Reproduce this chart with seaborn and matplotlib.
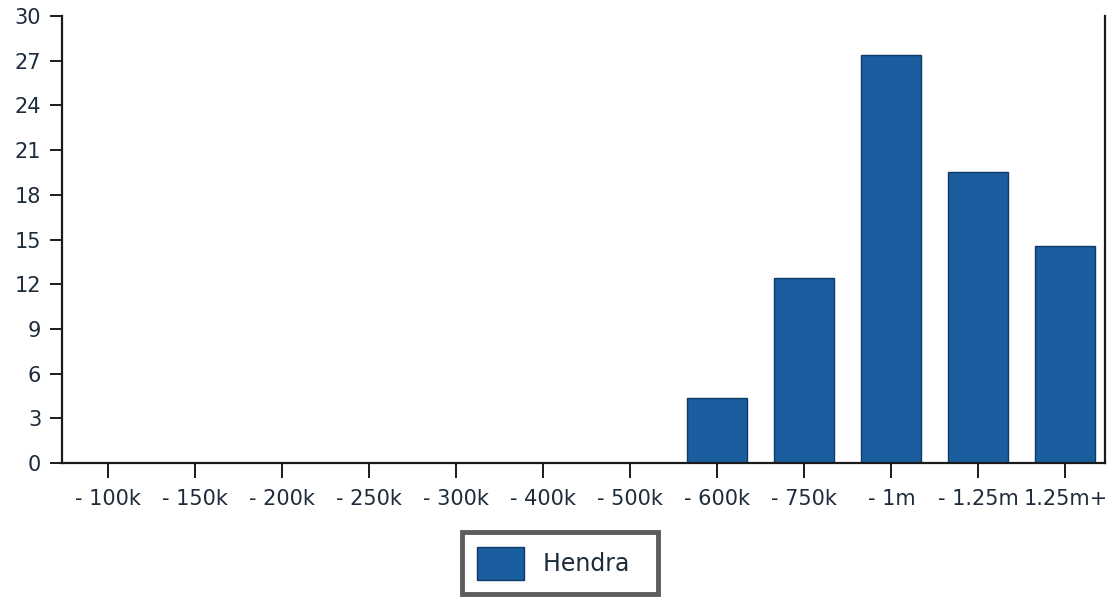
import matplotlib
matplotlib.use("Agg")
import matplotlib.pyplot as plt
import seaborn as sns
import pandas as pd

categories = ["- 100k", "- 150k", "- 200k", "- 250k", "- 300k", "- 400k",
              "- 500k", "- 600k", "- 750k", "- 1m", "- 1.25m", "1.25m+"]
values = [0, 0, 0, 0, 0, 0, 0, 4.4, 12.4, 27.4, 19.5, 14.6]
series = "Hendra"
yticks = [0, 3, 6, 9, 12, 15, 18, 21, 24, 27, 30]

sns.set_theme(style="white")
plt.rcParams['font.family'] = ['DejaVu Sans']

df = pd.DataFrame({"cat": categories, "val": values, "series": [series] * len(categories)})

fig = plt.figure(figsize=(11.18, 6.03), dpi=100)
ax = fig.add_axes([0.0555, 0.232, 0.9325, 0.7415])

bar_color = "#1b5e9f"
sns.barplot(data=df, x="cat", y="val", hue="series", palette=[bar_color], saturation=1,
            width=0.69, edgecolor="#0d3a66", linewidth=1.0, ax=ax, legend=True)

text_color = "#1e2b3a"
ax.set_ylim(0, 30)
ax.set_xlim(-0.53, 11.45)
ax.set_yticks(yticks)
ax.set_yticklabels([str(v) for v in yticks], fontsize=15, color=text_color)
ax.set_xticks(range(len(categories)))
ax.set_xticklabels(categories, fontsize=15, color=text_color)
ax.set_xlabel("")
ax.set_ylabel("")

for s in ["left", "bottom", "right"]:
    ax.spines[s].set_visible(True)
    ax.spines[s].set_color("#1a1a1a")
    ax.spines[s].set_linewidth(1.6)
ax.spines["top"].set_visible(False)

ax.tick_params(axis="y", direction="out", length=9, width=1.4, color="#1a1a1a", pad=6, left=True)
ax.tick_params(axis="x", direction="out", length=11, width=1.4, color="#1a1a1a", pad=8, bottom=True)

leg = ax.legend(loc="center", bbox_to_anchor=(0.478, -0.224), frameon=True,
                fontsize=17, handlelength=2.0, handleheight=1.8, borderpad=0.6,
                handletextpad=0.8, borderaxespad=0, fancybox=False, labelcolor=text_color)
leg.get_frame().set_edgecolor("#333333")
leg.get_frame().set_linewidth(3.5)
leg._legend_box.sep = 0
# widen the frame slightly via padding on the right of the label
for t in leg.get_texts():
    t.set_text(series + "  ")

fig.savefig("out.png", dpi=100)
